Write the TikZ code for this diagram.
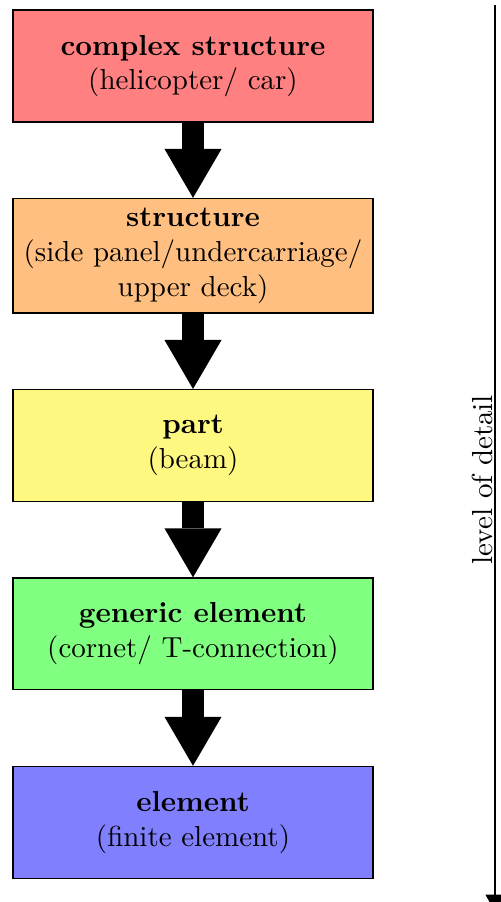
\documentclass[tikz,border=0pt]{standalone}
\usetikzlibrary{positioning,arrows.meta}

\tikzset{
  levelbox/.style={draw, thin, align=center, minimum width=124.2pt, minimum height=38.6pt},
  blockarrow/.style={line width=7.6pt, -{Triangle[width=19.7pt,length=16.9pt,line width=0pt]}},
}

\begin{document}
\begin{tikzpicture}[x=0.345pt,y=-0.345pt, node distance=26pt]
  \useasboundingbox (0,0) rectangle (501,902);

  \node[levelbox,fill=red!50]    (cs) at (193,66)  {\textbf{complex structure}\\(helicopter/ car)};
  \node[levelbox,fill=orange!50] (st) [below=of cs] {\textbf{structure}\\(side panel/undercarriage/\\upper deck)};
  \node[levelbox,fill=yellow!50] (pa) [below=of st] {\textbf{part}\\(beam)};
  \node[levelbox,fill=green!50]  (ge) [below=of pa] {\textbf{generic element}\\(cornet/ T-connection)};
  \node[levelbox,fill=blue!50]   (el) [below=of ge] {\textbf{element}\\(finite element)};

  \draw[blockarrow] (cs) -- (st);
  \draw[blockarrow] (st) -- (pa);
  \draw[blockarrow] (pa) -- (ge);
  \draw[blockarrow] (ge) -- (el);

  % level axis
  \coordinate (top) at (495,5);
  \coordinate (bot) at (495,912);
  \draw[line width=0.7pt, -{Triangle[width=6.4pt,length=6pt]}] (top) -- (bot);
  \node[rotate=90] (lod) at (482,480) {level of detail};
\end{tikzpicture}
\end{document}
